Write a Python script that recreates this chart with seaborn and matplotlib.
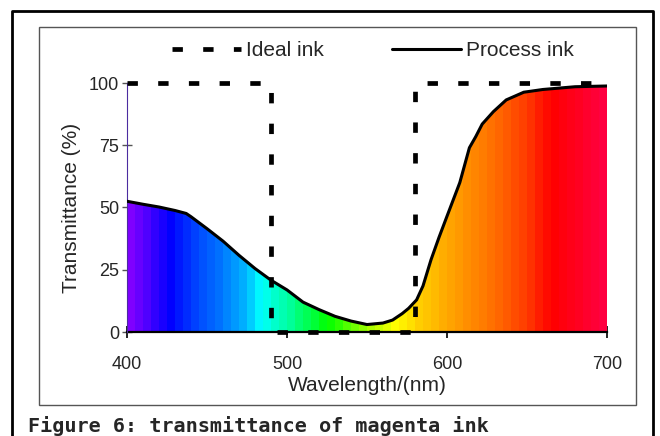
import numpy as np
import pandas as pd
import seaborn as sns
import matplotlib.pyplot as plt
from matplotlib.colors import LinearSegmentedColormap
from matplotlib.lines import Line2D
from matplotlib.patches import Rectangle

# process ink transmittance
process_wl = [400, 410, 420, 430, 437, 440, 450, 460, 470, 480, 490, 500, 510,
              520, 530, 540, 550, 560, 566, 572, 576, 581, 585, 590, 595, 600,
              608, 614, 618, 622, 629, 637, 648, 660, 680, 700]
process_t = [52.5, 51.3, 50.2, 48.8, 47.6, 46.3, 41.5, 36.5, 30.8, 25.5, 20.8,
             16.9, 12.0, 9.0, 6.3, 4.4, 3.0, 3.6, 4.8, 7.4, 9.5, 12.9, 18.5,
             29.0, 38.0, 46.5, 60.0, 74.0, 78.5, 83.5, 88.5, 93.2, 96.3, 97.4,
             98.5, 98.8]

# ideal ink: full block between 490 and 580 nm
ideal_wl = [400, 490, 490, 580, 580, 700]
ideal_t = [100, 100, 0, 0, 100, 100]

x_ticks = [400, 500, 600, 700]
y_ticks = [0, 25, 50, 75, 100]

# spectrum colours under the curve
spec_wl = [400, 425, 440, 460, 475, 482, 500, 525, 550, 568, 583, 605, 630, 650, 668, 700]
spec_col = ['#7f00ff', '#0000ff', '#0040ff', '#0080ff', '#00c0ff', '#00ffff',
            '#00ffa0', '#00ff00', '#a0ff00', '#ffff00', '#ffd000', '#ffa000',
            '#ff7000', '#ff4000', '#ff0000', '#ff0040']

sns.set_style('white')
plt.rcParams['font.family'] = ['Liberation Sans', 'DejaVu Sans']

fig = plt.figure(figsize=(6.6, 4.36), dpi=100)
W, H = 660, 436
ax = fig.add_axes([127 / W, 1 - 332 / H, 480 / W, 249 / H])

proc = pd.DataFrame({'wl': process_wl, 't': process_t})
ideal = pd.DataFrame({'wl': ideal_wl, 't': ideal_t})

# gradient fill clipped to the area under the process curve
poly = ax.fill_between(proc['wl'], proc['t'], 0, facecolor='none', edgecolor='none')
stops = [(w - 400) / 300 for w in spec_wl]
cmap = LinearSegmentedColormap.from_list('spec', list(zip(stops, spec_col)))
strips = np.linspace(0, 1, 60)[None, :]
img = ax.imshow(strips, cmap=cmap, extent=[400, 700, 0, 100], aspect='auto',
                interpolation='nearest', zorder=1)
img.set_clip_path(poly.get_paths()[0], transform=ax.transData)

sns.lineplot(data=proc, x='wl', y='t', ax=ax, color='black', lw=2.2,
             estimator=None, sort=False, label='Process ink', zorder=3)
sns.lineplot(data=ideal, x='wl', y='t', ax=ax, color='black', lw=3.4,
             estimator=None, sort=False, label='Ideal ink', zorder=4,
             dashes=False)
ideal_line = ax.lines[-1]
ideal_line.set_linestyle((0, (2.2, 4.3)))
ideal_line.set_dash_capstyle('butt')
ideal_line.set_clip_on(False)

ax.set_xlim(400, 700)
ax.set_ylim(0, 100)
ax.set_xticks(x_ticks)
ax.set_yticks(y_ticks)
for s in ['top', 'right']:
    ax.spines[s].set_visible(False)
ax.spines['left'].set_color('#4b2ca0')
ax.spines['left'].set_linewidth(0.8)
ax.spines['bottom'].set_color('black')
ax.spines['bottom'].set_linewidth(1.6)
ax.spines['bottom'].set_zorder(2)
ax.tick_params(axis='y', direction='inout', length=7, width=1, color='#555555',
               labelsize=13, pad=2, left=True)
ax.tick_params(axis='x', direction='inout', length=9, width=1.2, color='black',
               labelsize=13, pad=13, bottom=True)
ax.set_xlabel('Wavelength/(nm)', fontsize=15, labelpad=2)
ax.set_ylabel('Transmittance (%)', fontsize=15, labelpad=6)

handles, labels = ax.get_legend_handles_labels()
order = [labels.index('Ideal ink'), labels.index('Process ink')]
ax.legend([handles[i] for i in order], [labels[i] for i in order], ncol=2,
          loc='center', bbox_to_anchor=(373 / W, 1 - 51 / H),
          bbox_transform=fig.transFigure, frameon=False, fontsize=15,
          handlelength=3.3, handletextpad=0.25, columnspacing=3.3)

# inner chart box and outer frame
fig.add_artist(Rectangle((38.5 / W, 1 - 405 / H), (636 - 38.5) / W, (405 - 27) / H,
                         transform=fig.transFigure, fill=False, ec='#555555', lw=1))
fig.add_artist(Line2D([12 / W, 12 / W, 653 / W, 653 / W],
                      [-0.05, 1 - 11 / H, 1 - 11 / H, -0.05],
                      transform=fig.transFigure, color='black', lw=2))

fig.text(28 / W, 1 - 432 / H, 'Figure 6: transmittance of magenta ink',
         fontsize=14.5, family='DejaVu Sans Mono', weight='bold', va='baseline')

fig.savefig('out.png', dpi=100)
